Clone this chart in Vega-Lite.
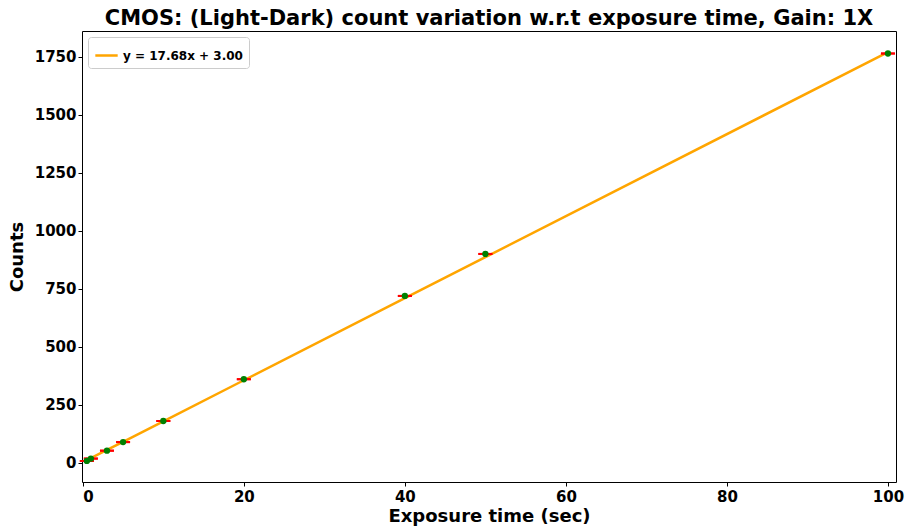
{
  "$schema": "https://vega.github.io/schema/vega-lite/v6.json",
  "width": 814,
  "height": 451,
  "autosize": "none",
  "padding": {"left": 82, "top": 31, "right": 11, "bottom": 50},
  "background": "white",
  "title": {"text": "CMOS: (Light-Dark) count variation w.r.t exposure time, Gain: 1X", "fontSize": 21, "font": "DejaVu Sans", "fontWeight": "bold", "color": "black", "offset": 2},
  "config": {
    "view": {"stroke": "black", "strokeWidth": 1},
    "axis": {"grid": false, "domain": false, "labelFont": "DejaVu Sans", "labelFontSize": 15, "labelFontWeight": "bold", "labelColor": "black", "titleFont": "DejaVu Sans", "titleFontSize": 18, "titleFontWeight": "bold", "titleColor": "black", "tickColor": "black", "tickSize": 4}
  },
  "data": {"values": [
    {"x": 0.5, "y": 9, "err": 1.5, "fit": 11.84},
    {"x": 1, "y": 19, "err": 1.5, "fit": 20.68},
    {"x": 3, "y": 53, "err": 2, "fit": 56.04},
    {"x": 5, "y": 90, "err": 2, "fit": 91.4},
    {"x": 10, "y": 181, "err": 3, "fit": 179.8},
    {"x": 20, "y": 361, "err": 4, "fit": 356.6},
    {"x": 40, "y": 720, "err": 7, "fit": 710.2},
    {"x": 50, "y": 901, "err": 10, "fit": 887},
    {"x": 100, "y": 1765, "err": 10, "fit": 1771}
  ]},
  "encoding": {
    "x": {"field": "x", "type": "quantitative", "scale": {"domain": [-0.1, 101], "nice": false, "zero": false}, "axis": {"values": [0, 20, 40, 60, 80, 100], "title": "Exposure time (sec)", "titlePadding": 3, "labelPadding": 3}}
  },
  "layer": [
    {
      "mark": {"type": "line", "strokeWidth": 2.5},
      "encoding": {
        "y": {"field": "fit", "type": "quantitative", "scale": {"domain": [-82, 1862], "nice": false, "zero": false}, "axis": {"values": [0, 250, 500, 750, 1000, 1250, 1500, 1750], "format": "d", "title": "Counts", "titlePadding": 8}},
        "color": {"datum": "y = 17.68x + 3.00", "type": "nominal", "scale": {"range": ["orange"]}, "legend": {"title": null, "orient": "top-left", "symbolType": "stroke", "symbolStrokeWidth": 2.5, "symbolSize": 500, "labelFont": "DejaVu Sans", "labelFontSize": 12, "labelFontWeight": "bold", "labelColor": "black", "strokeColor": "#ccc", "fillColor": "white", "padding": 6, "cornerRadius": 3, "offset": 6}}
      }
    },
    {
      "mark": {"type": "tick", "orient": "horizontal", "color": "red", "size": 14, "thickness": 2, "opacity": 1},
      "encoding": {"y": {"field": "y", "type": "quantitative"}, "yOffset": {"field": "err", "type": "quantitative", "scale": {"type": "linear", "domain": [0, 10], "range": [0, -2.5]}}}
    },
    {
      "mark": {"type": "tick", "orient": "horizontal", "color": "red", "size": 14, "thickness": 2, "opacity": 1},
      "encoding": {"y": {"field": "y", "type": "quantitative"}, "yOffset": {"field": "err", "type": "quantitative", "scale": {"type": "linear", "domain": [0, 10], "range": [0, 2.5]}}}
    },
    {
      "mark": {"type": "point", "filled": true, "color": "green", "size": 40, "opacity": 1},
      "encoding": {"y": {"field": "y", "type": "quantitative"}}
    }
  ]
}
